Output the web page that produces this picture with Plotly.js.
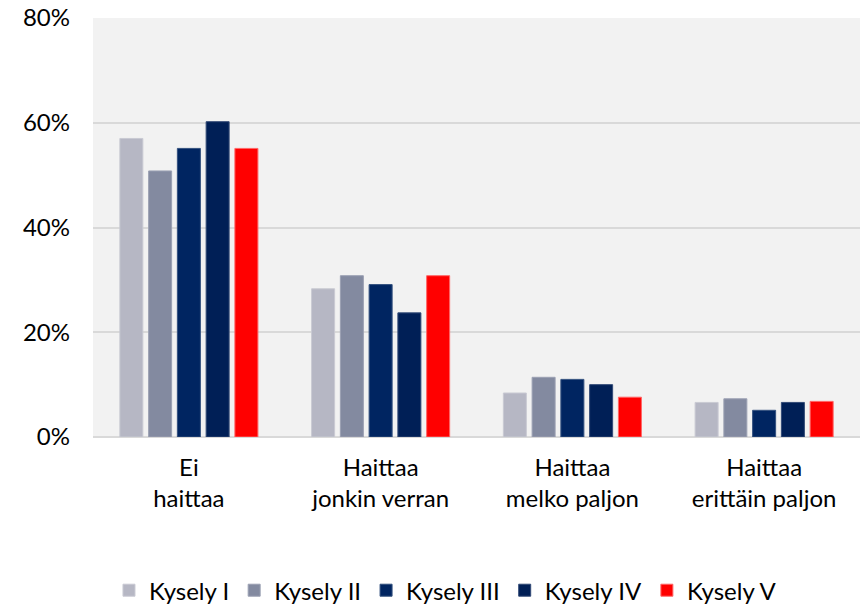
<!DOCTYPE html>
<html>
<head>
<meta charset="utf-8">
<script src="https://cdn.plot.ly/plotly-3.0.1.min.js"></script>
<style>html,body{margin:0;padding:0;background:#fff;}#chart{width:860px;height:607px;}</style>
</head>
<body>
<div id="chart"></div>
<script>
const categories = ["Ei<br>haittaa", "Haittaa<br>jonkin verran", "Haittaa<br>melko paljon", "Haittaa<br>erittäin paljon"];
const seriesNames = ["Kysely I", "Kysely II", "Kysely III", "Kysely IV", "Kysely V"];
const kysely1 = [0.570, 0.283, 0.084, 0.066];
const kysely2 = [0.508, 0.308, 0.114, 0.073];
const kysely3 = [0.551, 0.291, 0.110, 0.051];
const kysely4 = [0.602, 0.237, 0.100, 0.066];
const kysely5 = [0.551, 0.308, 0.076, 0.068];
const colors = ["#b6b7c4", "#838aa0", "#002561", "#001f56", "#ff0000"];
const lineColors = ["#c9cad3", "#9ca1b3", "#33517f", "#334b77", "#ff6666"];

const allSeries = [kysely1, kysely2, kysely3, kysely4, kysely5];
const font = "Lato, 'Open Sans', sans-serif";
const traces = allSeries.map((vals, i) => ({
  type: "bar",
  name: seriesNames[i],
  x: categories,
  y: vals,
  marker: {color: colors[i], line: {color: lineColors[i], width: 1}},
  hoverinfo: "skip"
}));

const layout = {
  width: 860, height: 607,
  margin: {l: 93, r: 0, t: 18, b: 170},
  paper_bgcolor: "#ffffff",
  plot_bgcolor: "#f2f2f2",
  barmode: "group",
  bargap: 0.25,
  bargroupgap: 0.2,
  font: {family: font, size: 24, color: "#000"},
  xaxis: {
    showgrid: false, zeroline: false, showline: false,
    ticks: "", ticklabelstandoff: 14,
    tickfont: {family: font, size: 24, color: "#000"},
    fixedrange: true
  },
  yaxis: {
    range: [0, 0.8], tickvals: [0, 0.2, 0.4, 0.6, 0.8], tickformat: ".0%",
    showgrid: true, gridcolor: "#d9d9d9", gridwidth: 2,
    zeroline: true, zerolinecolor: "#d9d9d9", zerolinewidth: 2,
    showline: false, ticks: "", ticklen: 0, ticklabelstandoff: 22,
    tickfont: {family: font, size: 24, color: "#000"},
    fixedrange: true
  },
  showlegend: true,
  legend: {
    orientation: "h", x: 0.518, xanchor: "center", xref: "container",
    y: 0.027, yref: "container", yanchor: "middle",
    font: {family: font, size: 24, color: "#000"},
    itemwidth: 30, traceorder: "normal"
  }
};

Plotly.newPlot("chart", traces, layout, {displayModeBar: false, staticPlot: true});
</script>
</body>
</html>
